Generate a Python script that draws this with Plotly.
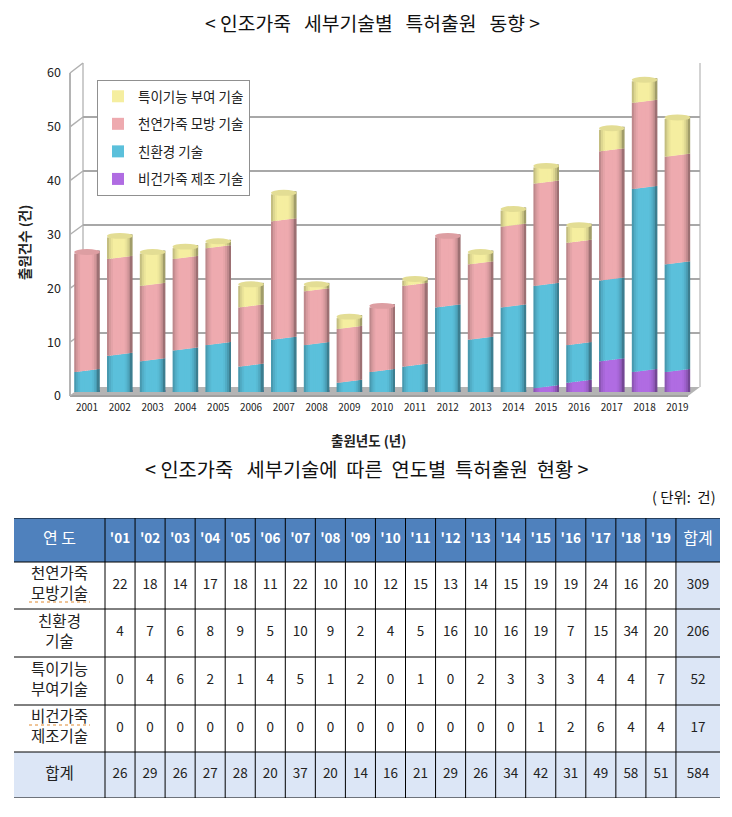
import plotly.graph_objects as go

# ---------- data ----------
years = list(range(2001, 2020))
natural = [22, 18, 14, 17, 18, 11, 22, 10, 10, 12, 15, 13, 14, 15, 19, 19, 24, 16, 20]
eco = [4, 7, 6, 8, 9, 5, 10, 9, 2, 4, 5, 16, 10, 16, 19, 7, 15, 34, 20]
special = [0, 4, 6, 2, 1, 4, 5, 1, 2, 0, 1, 0, 2, 3, 3, 3, 4, 4, 7]
vegan = [0, 0, 0, 0, 0, 0, 0, 0, 0, 0, 0, 0, 0, 0, 1, 2, 6, 4, 4]
totals = [26, 29, 26, 27, 28, 20, 37, 20, 14, 16, 21, 29, 26, 34, 42, 31, 49, 58, 51]
row_totals = [309, 206, 52, 17, 584]
y_ticks = [0, 10, 20, 30, 40, 50, 60]
col_labels = ["'01", "'02", "'03", "'04", "'05", "'06", "'07", "'08", "'09", "'10",
              "'11", "'12", "'13", "'14", "'15", "'16", "'17", "'18", "'19"]
row_labels = ["천연가죽<br>모방기술", "친환경<br>기술", "특이기능<br>부여기술", "비건가죽<br>제조기술", "합계"]

W, H = 732, 817
FONT = "Noto Sans CJK KR"
NB = "\u00a0"
def px(x): return x / W
def py(y): return 1 - y / H

# series from the bottom of the stack to the top
series = [("비건가죽 제조 기술", vegan, (176, 108, 226)),
          ("친환경 기술", eco, (91, 192, 219)),
          ("천연가죽 모방 기술", natural, (238, 170, 175)),
          ("특이기능 부여 기술", special, (245, 238, 160))]
shade = [0.80, 0.90, 0.96, 1, 1, 1, 1, 1, 1, 0.97, 0.90, 0.80, 0.66]
BAR = 0.78
TILT = 0.28

def rgb(c, f=1.0):
    return "rgb(%d,%d,%d)" % tuple(min(255, int(v * f)) for v in c)

fig = go.Figure()

# hidden anchors so the wall axes are drawn
fig.add_trace(go.Scatter(x=[0] * 7, y=y_ticks, mode="markers", marker=dict(size=1, opacity=0),
                         xaxis="x", yaxis="y", showlegend=False, hoverinfo="skip"))
fig.add_trace(go.Scatter(x=[0] * 7, y=y_ticks, mode="markers", marker=dict(size=1, opacity=0),
                         xaxis="x2", yaxis="y2", showlegend=False, hoverinfo="skip"))

n = len(shade)
w = BAR / n
cum0 = [0] * len(years)
for k, (name, vals, col) in enumerate(series):
    top0 = [a + b for a, b in zip(cum0, vals)]
    for j, f in enumerate(shade):
        t = TILT * (2 * j / (n - 1) - 1)
        base = [c + t if c > 0 else 0 for c in cum0]
        hgt = [(c2 + t) - b for c2, b in zip(top0, base)]
        fig.add_trace(go.Bar(
            x=years, y=hgt, base=base, width=w + (0.03 if j < n - 1 else 0),
            offset=-BAR / 2 + j * w, marker=dict(color=rgb(col, f), line_width=0),
            name=name, legendgroup=name, showlegend=(j == 5), legendrank=1000 + (3 - k),
            xaxis="x3", yaxis="y3", hoverinfo="skip"))
    cum0 = top0

shapes = []
def line(x0, y0, x1, y1, color="#a8a8a8", width=1.5, dash="solid", layer="below"):
    shapes.append(dict(type="line", xref="paper", yref="paper", x0=px(x0), y0=py(y0),
                       x1=px(x1), y1=py(y1), line=dict(color=color, width=width, dash=dash), layer=layer))

# floor and frame of the 3-D box
shapes.append(dict(type="path", xref="paper", yref="paper", layer="below",
                   path="M %f %f L %f %f L %f %f L %f %f Z" % (px(70), py(396), px(83), py(387),
                                                              px(700), py(387), px(688), py(396)),
                   fillcolor="#b4b4b4", line_width=0))
line(70, 396, 688, 396, "#a0a0a0", 2)
line(70, 73, 70, 396, "#b4b4b4", 2)
line(83, 63, 83, 387, "#bdbdbd", 1.5)
line(700, 63, 700, 387, "#c4c4c4", 1.5)
for v in y_ticks:
    line(70, 396 - v * 5.383, 83, 387 - v * 5.4, "#b0b0b0", 1.5)

# cylinder caps and rounded bottoms
for i, yr in enumerate(years):
    top_col = series[3][2] if special[i] else series[2][2]
    cap = tuple(v * 0.93 for v in top_col)
    bot_col = series[0][2] if vegan[i] else series[1][2]
    shapes.append(dict(type="circle", xref="x3", yref="y3", layer="above",
                       x0=yr - BAR / 2, x1=yr + BAR / 2, y0=totals[i] - 0.55, y1=totals[i] + 0.55,
                       fillcolor=rgb(cap), line_width=0))
    shapes.append(dict(type="circle", xref="x3", yref="y3", layer="below",
                       x0=yr - BAR / 2, x1=yr + BAR / 2, y0=-0.35, y1=0.35,
                       fillcolor=rgb(bot_col, 0.9), line_width=0))

# ---------- table ----------
BLUE, LIGHT = "#4f81bd", "#dce6f6"
col_edges = [14, 105] + [105 + 30.05 * (i + 1) for i in range(19)] + [720]
row_edges = [518, 562, 609, 657, 705, 752, 798]
col_mid = [(a + b) / 2 for a, b in zip(col_edges, col_edges[1:])]
row_mid = [(a + b) / 2 for a, b in zip(row_edges, row_edges[1:])]

def rect(x0, x1, y0, y1, color):
    shapes.append(dict(type="rect", xref="x4", yref="y4", x0=x0, x1=x1, y0=y0, y1=y1,
                       fillcolor=color, line_width=0, layer="below"))

rect(14, 720, 518, 562, BLUE)
rect(14, 720, 752, 798, LIGHT)
rect(col_edges[-2], 720, 562, 798, LIGHT)
for y in row_edges:
    shapes.append(dict(type="line", xref="x4", yref="y4", x0=14, x1=720, y0=y, y1=y,
                       line=dict(color="black", width=1), layer="below"))
for x in col_edges[1:-1]:
    shapes.append(dict(type="line", xref="x4", yref="y4", x0=x, x1=x, y0=518, y1=798,
                       line=dict(color="black", width=1), layer="below"))

# spell-check squiggles in the table
line(29, 602, 90, 602, "#e08a30", 1, "dot", "above")
line(29, 725, 90, 725, "#e08a30", 1, "dot", "above")

# header texts
fig.add_trace(go.Scatter(x=col_mid[1:-1], y=[row_mid[0]] * 19, text=["<b>%s</b>" % c for c in col_labels],
                         mode="text", textposition="middle center", cliponaxis=False,
                         textfont=dict(color="white", size=13.5, family=FONT),
                         xaxis="x4", yaxis="y4", showlegend=False, hoverinfo="skip"))
fig.add_trace(go.Scatter(x=[col_mid[0], col_mid[-1]], y=[row_mid[0]] * 2,
                         text=["연" + NB + "도", "합계"],
                         mode="text", textposition="middle center", cliponaxis=False,
                         textfont=dict(color="white", size=16, family=FONT),
                         xaxis="x4", yaxis="y4", showlegend=False, hoverinfo="skip"))
# row labels
fig.add_trace(go.Scatter(x=[col_mid[0]] * 5, y=row_mid[1:], text=row_labels,
                         mode="text", textposition="middle center", cliponaxis=False,
                         textfont=dict(color="#222222", size=15.5, family=FONT),
                         xaxis="x4", yaxis="y4", showlegend=False, hoverinfo="skip"))
# body values
rows = [natural, eco, special, vegan, totals]
cx, cy, ct = [], [], []
for r, vals in enumerate(rows):
    for c, v in enumerate(vals + [row_totals[r]]):
        cx.append(col_mid[c + 1])
        cy.append(row_mid[r + 1])
        ct.append(str(v))
fig.add_trace(go.Scatter(x=cx, y=cy, text=ct, mode="text", textposition="middle center", cliponaxis=False,
                         textfont=dict(color="#222222", size=13.5, family=FONT),
                         xaxis="x4", yaxis="y4", showlegend=False, hoverinfo="skip"))

def note(text, x, y, size, xanchor="center", angle=0, color="#111111"):
    return dict(text=text, x=px(x), y=py(y), xref="paper", yref="paper", xanchor=xanchor, yanchor="middle",
                textangle=angle, showarrow=False, font=dict(size=size, family=FONT, color=color))

s2 = NB * 3
s1 = NB * 2
fig.update_layout(
    width=W, height=H, margin=dict(l=0, r=0, t=0, b=0, autoexpand=False), autosize=False,
    paper_bgcolor="white", plot_bgcolor="rgba(0,0,0,0)",
    barmode="overlay", shapes=shapes,
    font=dict(family=FONT, color="#222222"),
    # back wall with its gridlines
    xaxis=dict(domain=[px(83), px(700)], visible=False, range=[0, 1], anchor="y"),
    yaxis=dict(domain=[py(387), py(63)], range=[0, 60], anchor="x", tickvals=y_ticks, showgrid=True,
               gridcolor="#a8a8a8", gridwidth=1.5, showticklabels=False, zeroline=False, ticks="", showline=False),
    # front edge that carries the value labels
    xaxis2=dict(domain=[px(70), px(688)], visible=False, range=[0, 1], anchor="y2"),
    yaxis2=dict(domain=[py(396), py(73)], range=[0, 60], anchor="x2", tickvals=y_ticks, showgrid=False,
                zeroline=False, showline=False, ticks="", tickfont=dict(size=12.5, family=FONT, color="#222222"),
                ticklabelstandoff=8),
    # bars
    xaxis3=dict(domain=[px(70), px(704)], range=[2000.5 - (87 - 70 - 16.4) / 32.8, 2000.5 + (704 - 70.6) / 32.8],
                anchor="y3", tickvals=years, ticktext=[str(y) for y in years], showgrid=False, zeroline=False,
                showline=False, ticks="", tickfont=dict(size=10, family=FONT, color="#222222"), ticklabelstandoff=8),
    yaxis3=dict(domain=[py(392), py(69)], range=[0, 60], anchor="x3", visible=False),
    # table frame in page pixels
    xaxis4=dict(domain=[px(14), px(720)], range=[14, 720], visible=False, anchor="y4"),
    yaxis4=dict(domain=[py(798), py(518)], range=[798, 518], visible=False, anchor="x4"),
    legend=dict(x=px(97), y=py(80), xanchor="left", yanchor="top", bgcolor="white",
                bordercolor="#909090", borderwidth=1, tracegroupgap=7, traceorder="grouped",
                font=dict(size=13.5, family=FONT, color="#222222"), itemclick=False, itemdoubleclick=False),
    annotations=[
        note("<" + NB + "인조가죽" + s2 + "세부기술별" + s2 + "특허출원" + s2 + "동향" + NB + ">", 372, 23, 19.3),
        note("<" + NB + "인조가죽" + s2 + "세부기술에" + s1 + "따른" + s1 + "연도별" + s1 + "특허출원" + s1 + "현황" + NB + ">", 367, 468, 19.8),
        note("(" + NB + "단위:" + s1 + "건)", 718, 496, 14.5, "right"),
        note("<b>출원년도 (년)</b>", 369, 440, 13.5, color="#222222"),
        note("<b>출원건수 (건)</b>", 24, 243, 13.5, angle=-90, color="#222222"),
    ],
)

fig.write_html("out.html", config=dict(displayModeBar=False), post_script="document.body.style.margin='0';")
